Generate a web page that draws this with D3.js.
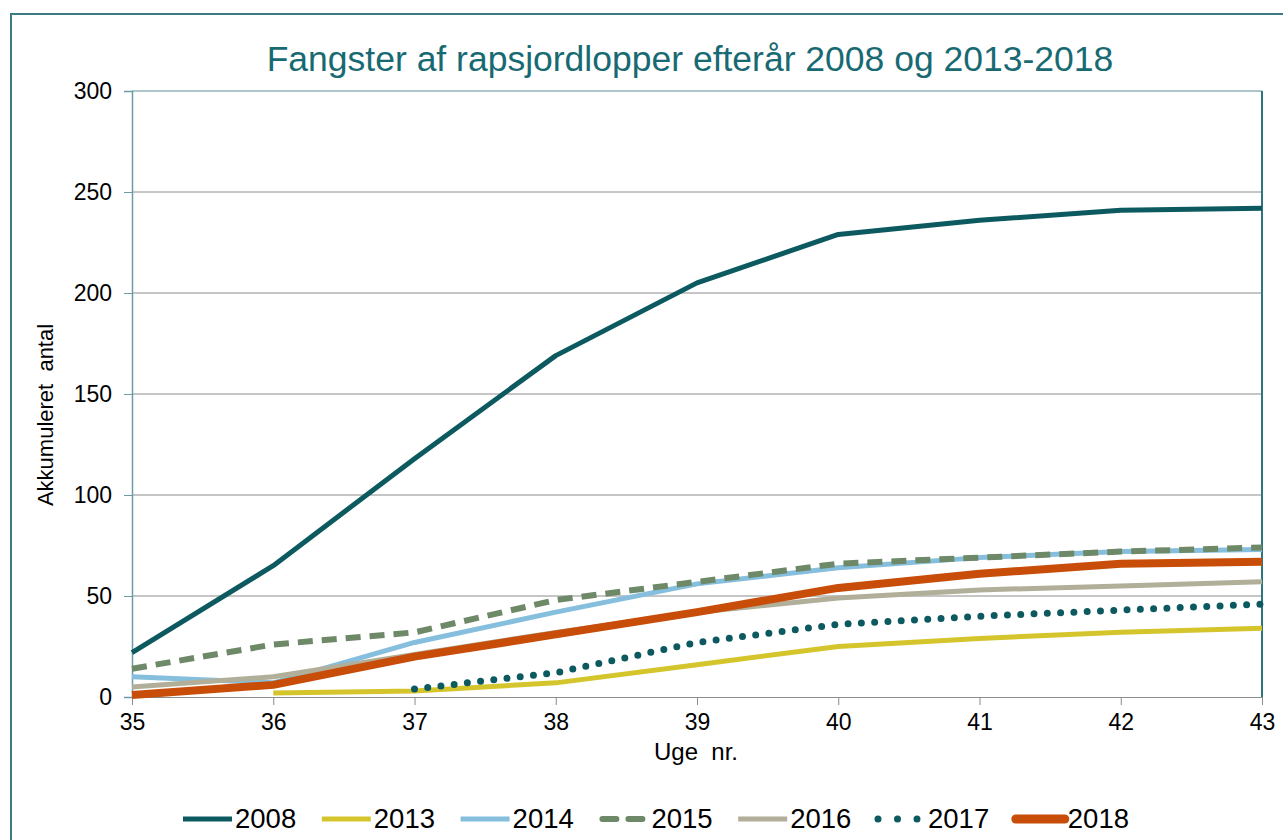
<!DOCTYPE html>
<html>
<head>
<meta charset="utf-8">
<script src="https://cdn.jsdelivr.net/npm/d3@7"></script>
<style>
  body { margin: 0; background: #fff; }
  svg { display: block; font-family: "Liberation Sans", Arial, sans-serif; }
  text { white-space: pre; }
</style>
</head>
<body>
<svg id="chart" width="1283" height="840"></svg>
<script>
// data (uge 35..43), null = no catch yet
var weeks = [35, 36, 37, 38, 39, 40, 41, 42, 43];
var years = ["2008", "2013", "2014", "2015", "2016", "2017", "2018"];
var v2008 = [22, 65, 118, 169, 205, 229, 236, 241, 242];
var v2013 = [null, 2, 3, 7, 16, 25, 29, 32, 34];
var v2014 = [10, 7, 27, 42, 56, 64, 69, 72, 73];
var v2015 = [14, 26, 32, 48, 57, 66, 69, 72, 74];
var v2016 = [5, 10, 21, 32, 42, 49, 53, 55, 57];
var v2017 = [null, null, 4, 12, 27, 36, 40, 43, 46];
var v2018 = [1, 6, 20, 31, 42, 54, 61, 66, 67];
var yTicks = [0, 50, 100, 150, 200, 250, 300];

var series = [
  { name: years[0], values: v2008, color: "#0c5a5f", width: 5, dash: null },
  { name: years[1], values: v2013, color: "#d5c52c", width: 5, dash: null },
  { name: years[2], values: v2014, color: "#86bfdd", width: 5, dash: null },
  { name: years[3], values: v2015, color: "#6e8967", width: 6, dash: "15,9" },
  { name: years[4], values: v2016, color: "#b1ae9a", width: 5, dash: null },
  { name: years[5], values: v2017, color: "#0c5a5f", width: 7, dash: "0,13.3" },
  { name: years[6], values: v2018, color: "#c84d08", width: 8, dash: null }
];

var svg = d3.select("#chart");

// outer frame (runs off the right and bottom edge)
svg.append("rect")
  .attr("x", 11).attr("y", 14)
  .attr("width", 1300).attr("height", 900)
  .attr("fill", "none")
  .attr("stroke", "#3d7b83")
  .attr("stroke-width", 2);

var pLeft = 132, pRight = 1262, pTop = 91, pBottom = 697;

var x = d3.scaleLinear().domain([35, 43]).range([pLeft, pRight]);
var y = d3.scaleLinear().domain([0, 300]).range([pBottom, pTop]);

// gridlines
svg.append("g")
  .selectAll("line")
  .data(yTicks.filter(function(d) { return d > 0; }))
  .enter().append("line")
  .attr("x1", pLeft).attr("x2", pRight)
  .attr("y1", function(d) { return y(d); })
  .attr("y2", function(d) { return y(d); })
  .attr("stroke", function(d) { return d == 300 ? "#5d8d94" : "#8c8c8c"; })
  .attr("stroke-width", 1);

// right border of plot
svg.append("line")
  .attr("x1", pRight).attr("x2", pRight)
  .attr("y1", pTop).attr("y2", pBottom)
  .attr("stroke", "#2d7680").attr("stroke-width", 2);

// y axis
var yAxis = svg.append("g")
  .attr("transform", "translate(" + pLeft + ",0)")
  .call(d3.axisLeft(y).tickValues(yTicks).tickSize(8).tickPadding(12));
yAxis.select(".domain").attr("stroke", "#6b9ca5").attr("stroke-width", 1.5);
yAxis.selectAll(".tick line").attr("stroke", "#6b9ca5");
yAxis.selectAll("text").style("font-size", "23px").attr("fill", "#000")
  .style("font-family", "Liberation Sans, Arial, sans-serif");

// x axis
var xAxis = svg.append("g")
  .attr("transform", "translate(0," + pBottom + ")")
  .call(d3.axisBottom(x).tickValues(weeks).tickSize(8).tickPadding(9)
    .tickFormat(d3.format("d")));
xAxis.select(".domain").attr("stroke", "#8c8c8c");
xAxis.selectAll(".tick line").attr("stroke", "#8c8c8c");
xAxis.selectAll("text").style("font-size", "23px").attr("fill", "#000")
  .style("font-family", "Liberation Sans, Arial, sans-serif");

// lines
var line = d3.line()
  .defined(function(d) { return d.v != null; })
  .x(function(d) { return x(d.w); })
  .y(function(d) { return y(d.v); });

svg.append("g").selectAll("path")
  .data(series)
  .enter().append("path")
  .attr("d", function(s) {
    return line(s.values.map(function(v, i) { return { w: weeks[i], v: v }; }));
  })
  .attr("fill", "none")
  .attr("stroke", function(s) { return s.color; })
  .attr("stroke-width", function(s) { return s.width; })
  .attr("stroke-dasharray", function(s) { return s.dash; })
  .attr("stroke-linecap", function(s) { return s.name == "2017" ? "round" : "butt"; })
  .attr("stroke-linejoin", "round");

// title
svg.append("text")
  .attr("x", 690).attr("y", 71)
  .attr("text-anchor", "middle")
  .style("font-size", "35.5px")
  .attr("fill", "#186a72")
  .text("Fangster af rapsjordlopper efterår 2008 og 2013-2018");

// axis titles
svg.append("text")
  .attr("transform", "translate(53,415) rotate(-90)")
  .attr("text-anchor", "middle")
  .style("font-size", "22px")
  .attr("fill", "#000")
  .text("Akkumuleret  antal");

svg.append("text")
  .attr("x", 696).attr("y", 760)
  .attr("text-anchor", "middle")
  .style("font-size", "24px")
  .attr("fill", "#000")
  .text("Uge  nr.");

// legend
var legend = svg.append("g").selectAll("g")
  .data(series)
  .enter().append("g")
  .attr("transform", function(s, i) { return "translate(" + (183 + i * 138.8) + ",819)"; });

legend.append("line")
  .attr("x1", function(s) { return s.name == "2017" ? 1 : (s.name == "2015" ? 3 : 0); })
  .attr("x2", function(s) { return s.name == "2015" ? 46 : (s.name == "2017" ? 42 : 49); })
  .attr("stroke", function(s) { return s.color; })
  .attr("stroke-width", function(s) { return s.name == "2018" ? 9 : s.width; })
  .attr("stroke-dasharray", function(s) {
    if (s.name == "2015") return "14,12";
    if (s.name == "2017") return "0,19.5";
    return null;
  })
  .attr("stroke-linecap", function(s) {
    return (s.name == "2017" || s.name == "2015" || s.name == "2018") ? "round" : "butt";
  });

legend.append("text")
  .attr("x", function(s) { return s.name == "2017" ? 51 : 52; })
  .attr("y", 9)
  .style("font-size", "27.5px")
  .attr("fill", "#000")
  .text(function(s) { return s.name; });
</script>
</body>
</html>
